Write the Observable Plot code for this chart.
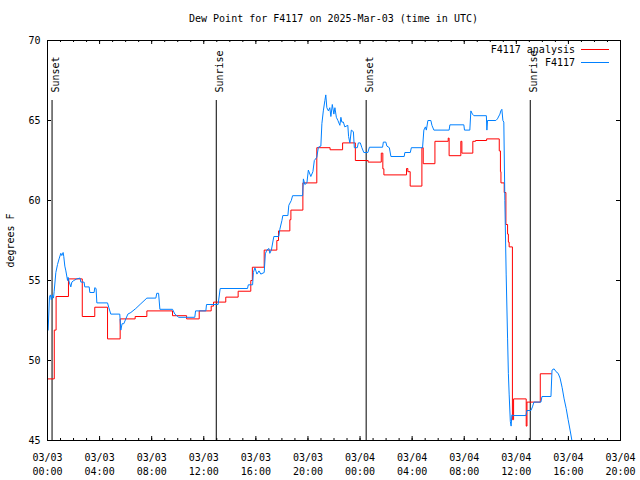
<!DOCTYPE html>
<html>
<head>
<meta charset="utf-8">
<script src="https://cdn.jsdelivr.net/npm/d3@7"></script>
<script src="https://cdn.jsdelivr.net/npm/@observablehq/plot@0.6"></script>
<style>
  body { margin: 0; background: #fff; font-family: "DejaVu Sans Mono", monospace; font-size: 10px; color: #000; }
  #wrap { position: relative; width: 640px; height: 480px; }
  #title { box-sizing: border-box; height: 30px; padding-top: 13px; line-height: 12px; margin-left: 47px; width: 573px; text-align: center; white-space: pre; }
  #legend { position: absolute; top: 43px; right: 31px; }
  .row { display: flex; justify-content: flex-end; align-items: center; height: 13px; line-height: 13px; white-space: pre; }
  .sw { display: inline-block; width: 28px; height: 0; border-top: 1px solid; margin-left: 6px; }
</style>
</head>
<body>
<div id="wrap">
  <div id="title"></div>
  <div id="chart"></div>
  <div id="legend"></div>
</div>
<script>
const titleText = "Dew Point for F4117 on 2025-Mar-03 (time in UTC)";
const yLabel = "degrees F";
const seriesNames = ["F4117 analysis", "F4117"];
const seriesColors = ["#ff0000", "#0080ff"];

// hours since 2025-03-03 00:00 UTC
const obsHours = [0.05,0.15,0.22,0.29,0.38,0.46,0.51,0.64,0.77,0.89,1.02,1.10,1.20,1.25,1.33,1.41,1.54,1.58,1.67,1.79,1.87,2.02,2.25,2.50,2.56,2.81,2.86,3.20,3.25,3.58,3.63,3.73,3.79,4.61,4.71,4.86,5.55,5.63,5.73,5.86,6.17,6.40,6.78,7.17,7.63,8.32,8.39,8.53,8.63,9.60,9.78,10.08,11.31,11.37,12.16,12.21,13.10,13.26,15.36,15.42,15.75,15.81,15.93,16.08,16.24,16.38,16.64,16.73,16.84,17.00,17.07,17.19,17.38,17.76,17.84,18.00,18.07,18.46,18.53,18.72,18.82,19.59,19.65,19.76,19.92,20.03,20.22,20.38,20.49,20.68,20.80,20.99,21.07,21.18,21.30,21.37,21.45,21.57,21.68,21.76,21.87,21.99,22.07,22.18,22.30,22.45,22.53,22.60,22.72,22.83,23.06,23.12,23.22,23.33,23.49,23.56,23.79,23.87,24.02,24.14,24.29,24.60,24.72,25.73,25.79,25.98,26.06,26.25,26.37,27.39,27.44,27.86,27.94,28.80,28.90,29.02,29.09,29.21,29.44,29.52,29.67,30.84,30.90,31.97,32.02,32.43,32.51,32.63,32.74,33.70,33.74,33.79,34.43,34.55,34.74,34.81,34.89,34.97,35.04,35.12,35.22,35.33,35.39,35.45,35.54,35.60,35.66,35.76,36.74,36.81,37.12,37.24,37.35,37.89,37.97,38.66,38.74,38.90,39.05,39.21,39.36,39.52,39.67,39.83,39.98,40.14,40.29,40.40];
const obsValues = [51.9,53.96,54.1,53.8,54.1,53.9,54.3,55.5,56.0,56.35,56.7,56.56,56.75,56.5,55.9,55.6,55.0,55.2,54.9,54.6,54.9,55.0,55.1,55.15,54.9,54.9,54.6,54.6,54.25,54.25,54.55,54.5,53.6,53.6,53.3,52.9,52.9,51.9,52.3,52.3,52.9,53.0,53.25,53.55,53.9,53.9,54.2,54.2,53.2,53.2,52.9,52.7,52.7,53.1,53.1,53.5,53.5,54.5,54.5,54.73,54.73,55.5,55.8,55.4,55.6,55.4,55.5,56.67,56.9,57.0,56.7,56.9,57.75,57.75,58.2,58.75,59.06,59.06,59.7,60.0,60.3,60.3,61.35,61.0,61.1,61.9,61.5,61.8,62.5,62.7,63.33,63.4,64.8,65.6,66.25,66.6,65.8,65.6,65.8,65.25,66.0,65.4,65.8,65.2,65.0,64.7,65.2,64.9,64.9,64.6,64.7,64.0,63.6,64.4,64.3,63.3,63.3,63.6,63.6,63.3,63.0,63.0,63.33,63.33,63.65,63.65,63.4,63.3,62.75,62.75,63.0,63.0,63.3,63.3,64.4,64.6,64.4,65.0,65.0,64.7,64.4,64.4,64.73,64.73,64.4,64.4,65.6,65.4,65.3,65.3,64.4,65.0,65.0,65.1,65.4,65.6,65.7,65.0,64.9,60.0,55.4,51.35,49.2,47.9,46.2,45.9,46.6,46.56,46.56,46.875,46.875,47.1,47.4,47.4,47.75,47.75,49.4,49.48,49.3,49.2,48.9,48.3,47.6,47.0,46.3,45.6,44.9,44.5];

const anaHours = [0.00,0.52,0.66,1.61,2.67,3.63,4.61,5.58,6.73,7.63,9.60,10.68,11.65,12.57,12.75,13.69,14.64,15.61,15.73,16.64,17.61,17.74,18.61,18.69,19.61,20.68,21.70,22.66,23.64,24.62,25.63,25.75,25.83,27.57,27.67,27.85,28.75,28.85,29.75,30.77,30.84,31.74,31.82,32.66,32.87,33.72,34.69,34.78,34.82,35.07,35.20,35.33,35.39,35.45,35.70,35.79,36.76,36.82,37.84,38.70];
const anaValues = [48.85,51.9,54.0,55.1,52.75,53.33,51.35,52.6,52.75,53.1,52.8,52.6,53.1,53.4,53.65,53.96,54.33,55.0,55.83,56.9,57.5,58.1,58.8,59.4,61.1,63.3,63.17,63.6,62.5,62.4,62.96,61.98,61.6,62.0,61.8,60.9,63.3,62.3,63.7,63.9,62.8,63.7,62.96,63.7,63.75,63.85,63.1,61.8,61.1,60.5,58.5,57.9,57.4,57.1,46.3,47.6,45.9,47.4,49.17,49.17];

const eventHours = [0.35, 12.96, 24.47, 37.07];
const eventLabels = ["Sunset", "Sunrise", "Sunset", "Sunrise"];

const yTicks = [45, 50, 55, 60, 65, 70];
const xSpanHours = 44;

const base = Date.UTC(2025, 2, 3);
const toDate = h => new Date(base + h * 3600e3);
const obs = obsHours.map((h, i) => ({t: toDate(h), v: obsValues[i]}));
const ana = anaHours.map((h, i) => ({t: toDate(h), v: anaValues[i]}));
const events = eventHours.map((h, i) => ({t: toDate(h), label: eventLabels[i]}));
const hourTicks = d3.utcHour.range(toDate(0), toDate(xSpanHours + 0.5));
const majorTicks = d3.utcHour.every(4).range(toDate(0), toDate(xSpanHours + 0.5));
const fmtDay = d3.utcFormat("%m/%d"), fmtTime = d3.utcFormat("%H:%M");

document.getElementById("title").textContent = titleText;

const chart = Plot.plot({
  width: 640, height: 450,
  marginTop: 10, marginBottom: 40, marginLeft: 47, marginRight: 20,
  style: {fontFamily: "DejaVu Sans Mono, monospace", fontSize: "10px", background: "white", color: "black"},
  x: {type: "utc", domain: [toDate(0), toDate(xSpanHours)]},
  y: {domain: [45, 70]},
  marks: [
    Plot.ruleX(hourTicks, {x: d => d, insetTop: 398}),
    Plot.ruleX(hourTicks, {x: d => d, insetBottom: 398}),
    Plot.ruleX(majorTicks, {x: d => d, insetTop: 396}),
    Plot.ruleX(majorTicks, {x: d => d, insetBottom: 396}),
    Plot.ruleY(yTicks, {y: d => d, insetRight: 569}),
    Plot.ruleY(yTicks, {y: d => d, insetLeft: 569}),
    Plot.axisX({ticks: majorTicks, tickSize: 0, tickPadding: 11, label: null, lineHeight: 1.4,
      tickFormat: d => fmtDay(d) + "\n" + fmtTime(d)}),
    Plot.axisY({ticks: yTicks, tickSize: 0, tickPadding: 7, label: yLabel, labelAnchor: "center", labelArrow: "none", labelOffset: 41}),
    Plot.ruleX(events, {x: "t", insetTop: 60, stroke: "black"}),
    Plot.text(events, {x: "t", text: "label", frameAnchor: "top", rotate: -90, textAnchor: "start", dy: 52, fill: "black"}),
    Plot.line(ana, {x: "t", y: "v", stroke: seriesColors[0], strokeWidth: 1, curve: "step-after", clip: true}),
    Plot.line(obs, {x: "t", y: "v", stroke: seriesColors[1], strokeWidth: 1, clip: true}),
    Plot.frame({stroke: "black"})
  ]
});
document.getElementById("chart").appendChild(chart);

const legend = document.getElementById("legend");
seriesNames.forEach((name, i) => {
  const row = document.createElement("div");
  row.className = "row";
  const label = document.createElement("span");
  label.textContent = name;
  const sw = document.createElement("span");
  sw.className = "sw";
  sw.style.borderTopColor = seriesColors[i];
  row.appendChild(label);
  row.appendChild(sw);
  legend.appendChild(row);
});
</script>
</body>
</html>
